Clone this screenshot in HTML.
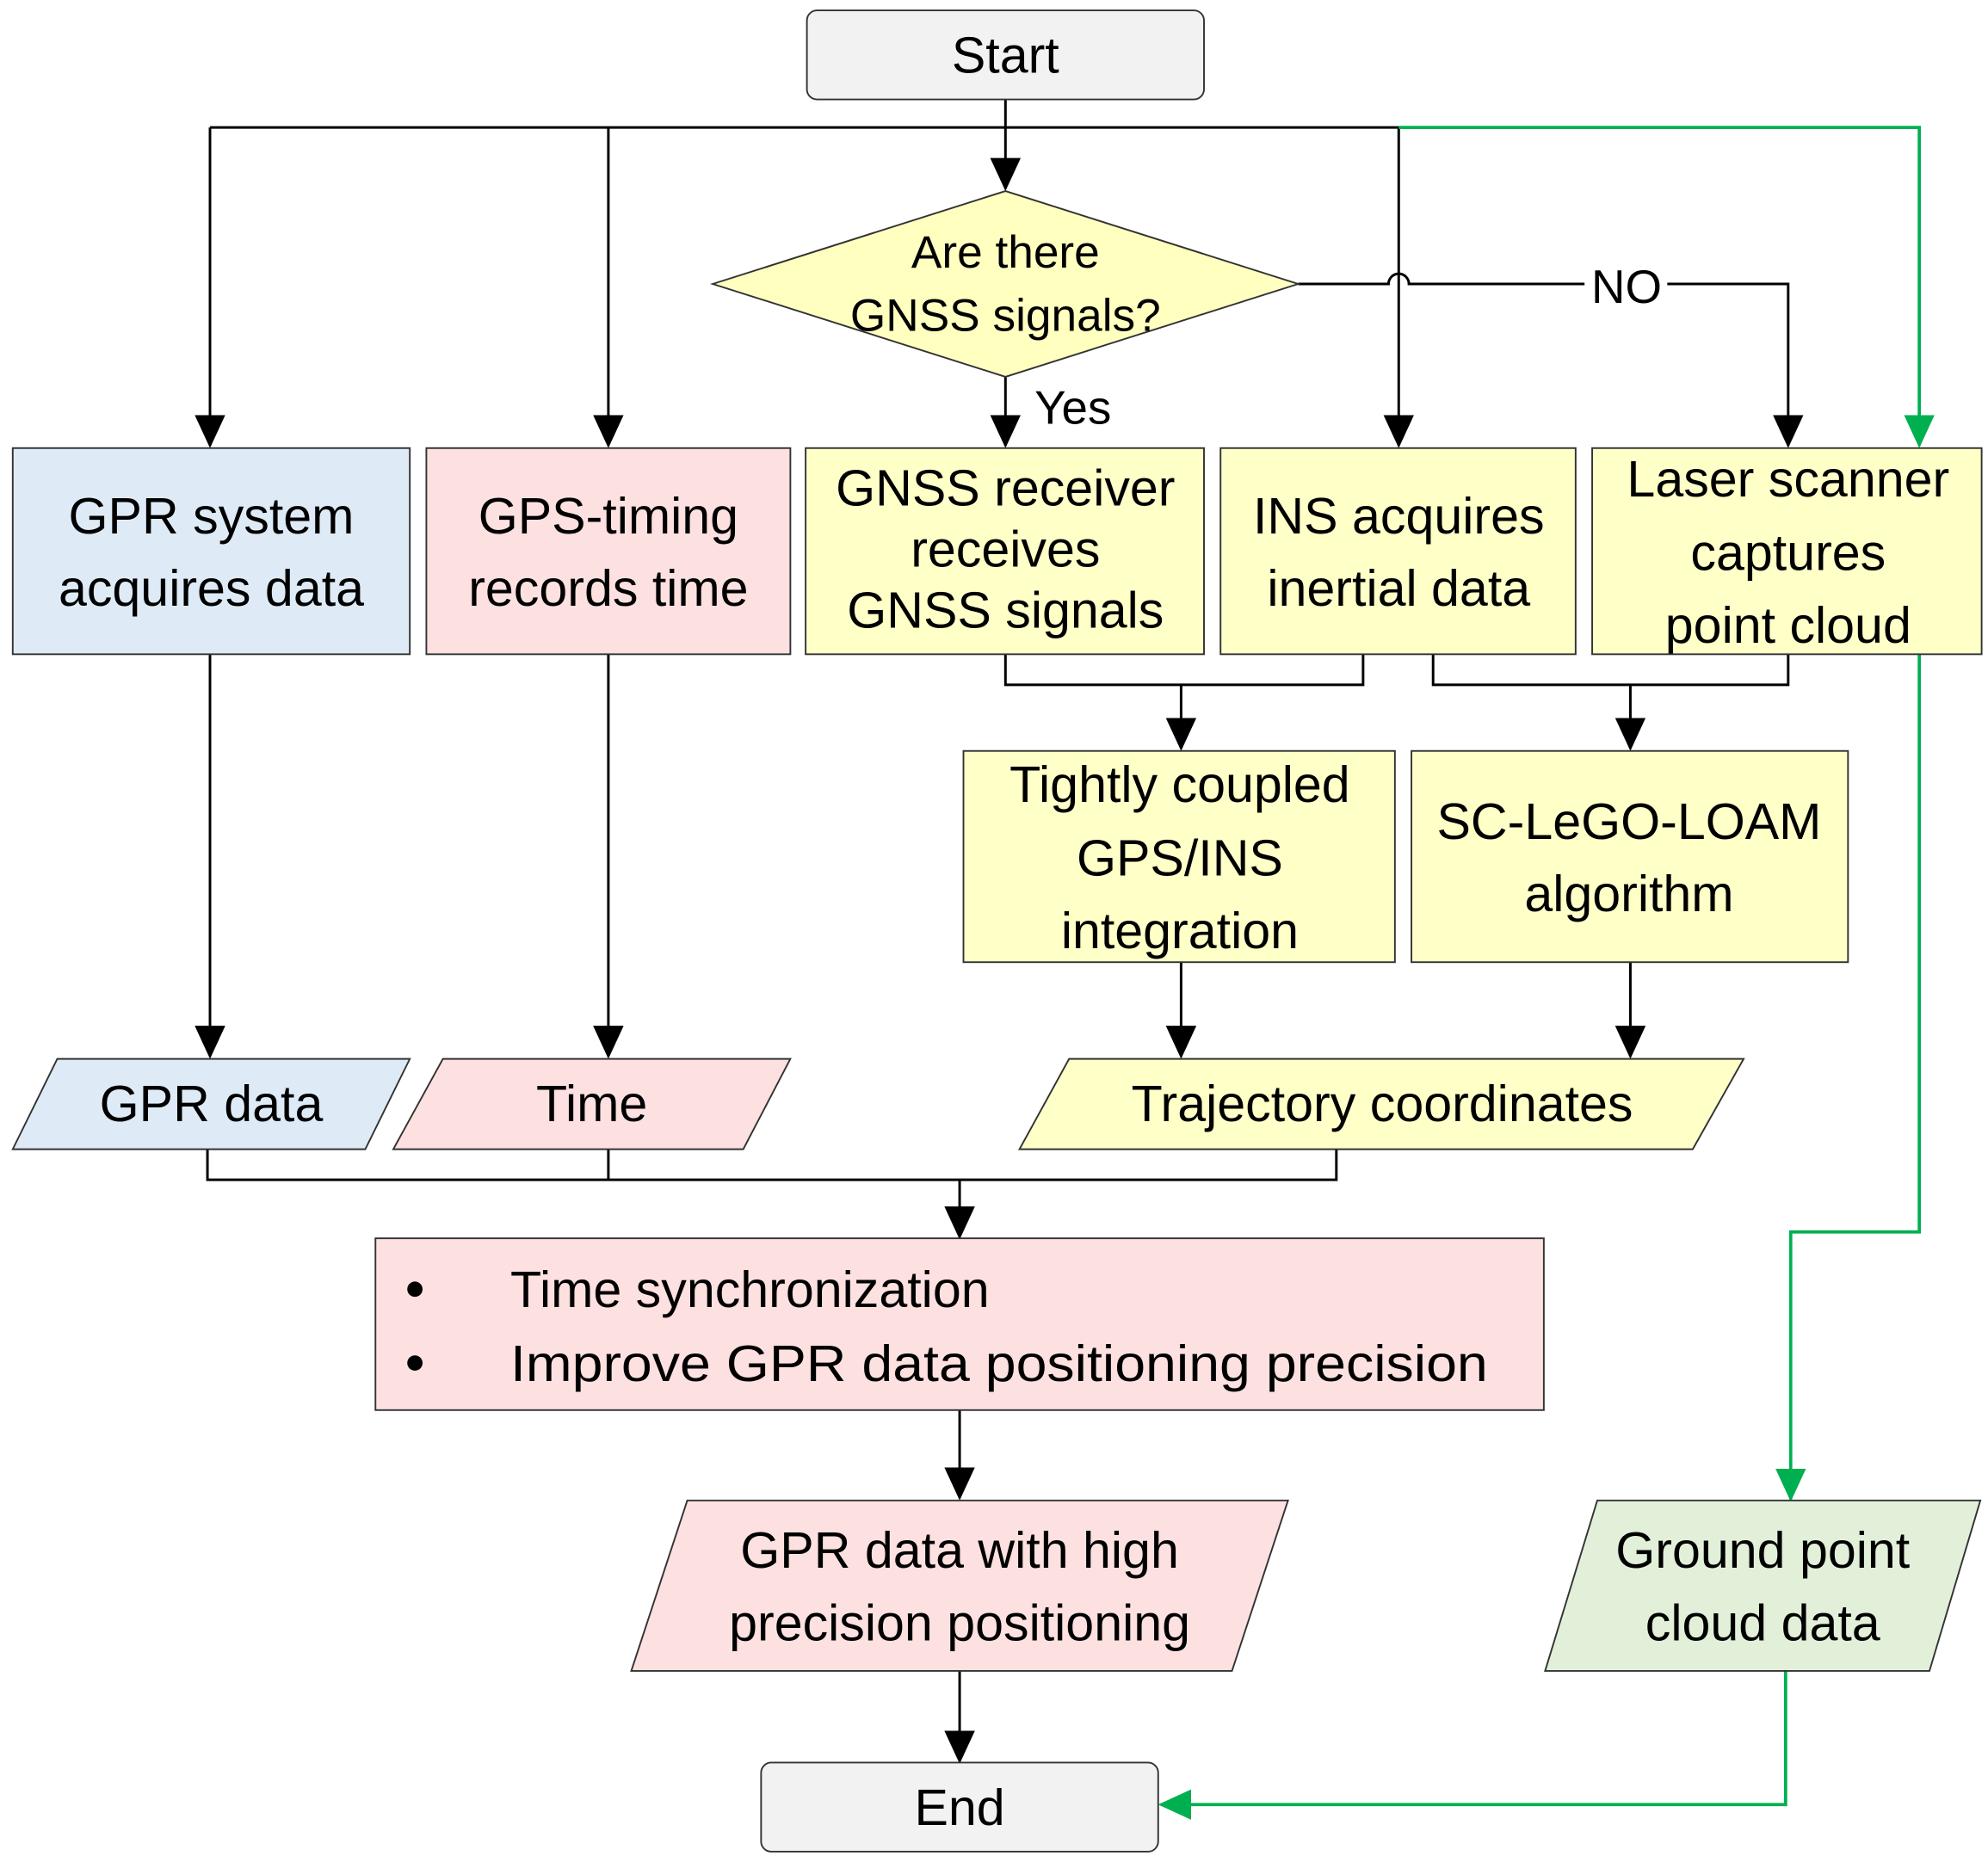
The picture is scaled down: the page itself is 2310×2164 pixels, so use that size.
<!DOCTYPE html>
<html><head><meta charset="utf-8"><style>html,body{margin:0;padding:0;background:#fff}svg{display:block}</style></head>
<body>
<svg width="2310" height="2164" viewBox="0 0 1562 1463" xmlns="http://www.w3.org/2000/svg" font-family="Liberation Sans, sans-serif" font-size="40" text-anchor="middle">
<defs>
<marker id="ab" markerWidth="26" markerHeight="24" refX="24" refY="12" orient="auto" markerUnits="userSpaceOnUse" viewBox="0 0 26 24"><path d="M0,0 L26,12 L0,24 z" fill="#000"/></marker>
<marker id="ag" markerWidth="26" markerHeight="24" refX="24" refY="12" orient="auto" markerUnits="userSpaceOnUse" viewBox="0 0 26 24"><path d="M0,0 L26,12 L0,24 z" fill="#00b050"/></marker>
</defs>
<g stroke="#000" stroke-width="2" fill="none">
<path d="M790 78 V148" marker-end="url(#ab)"/>
<path d="M165 100 H1099"/>
<path d="M165 100 V350" marker-end="url(#ab)"/>
<path d="M478 100 V350" marker-end="url(#ab)"/>
<path d="M1099 100 V350" marker-end="url(#ab)"/>
<path d="M1020 223 H1091 a8 8 0 0 1 16 0 H1245 M1310 223 H1405 V350" marker-end="url(#ab)"/>
<path d="M790 296 V350" marker-end="url(#ab)"/>
<path d="M790 514 V538 H1071 V514"/>
<path d="M928 538 V588" marker-end="url(#ab)"/>
<path d="M1126 514 V538 H1405 V514"/>
<path d="M1281 538 V588" marker-end="url(#ab)"/>
<path d="M165 514 V830" marker-end="url(#ab)"/>
<path d="M478 514 V830" marker-end="url(#ab)"/>
<path d="M928 756 V830" marker-end="url(#ab)"/>
<path d="M1281 756 V830" marker-end="url(#ab)"/>
<path d="M163 903 V927 H1050 V903 M478 903 V927"/>
<path d="M754 927 V972" marker-end="url(#ab)"/>
<path d="M754 1108 V1177" marker-end="url(#ab)"/>
<path d="M754 1313 V1384" marker-end="url(#ab)"/>
</g>
<g stroke="#00b050" stroke-width="2.5" fill="none">
<path d="M1099 100 H1508 V350" marker-end="url(#ag)"/>
<path d="M1508 514 V968 H1407 V1178" marker-end="url(#ag)"/>
<path d="M1403 1313 V1418 H912" marker-end="url(#ag)"/>
</g>
<g stroke="#333" stroke-width="1.3">
<rect x="634" y="8" width="312" height="70" rx="8" fill="#f2f2f2"/>
<polygon points="560,223 790,150 1020,223 790,296" fill="#ffffc0"/>
<rect x="10" y="352" width="312" height="162" fill="#deebf7"/>
<rect x="335" y="352" width="286" height="162" fill="#fde0e0"/>
<rect x="633" y="352" width="313" height="162" fill="#ffffc8"/>
<rect x="959" y="352" width="279" height="162" fill="#ffffc8"/>
<rect x="1251" y="352" width="306" height="162" fill="#ffffc8"/>
<rect x="757" y="590" width="339" height="166" fill="#ffffc8"/>
<rect x="1109" y="590" width="343" height="166" fill="#ffffc8"/>
<polygon points="45,832 322,832 287,903 10,903" fill="#deebf7"/>
<polygon points="348,832 621,832 584,903 309,903" fill="#fde0e0"/>
<polygon points="840,832 1370,832 1330,903 801,903" fill="#ffffc8"/>
<rect x="295" y="973" width="918" height="135" fill="#fde0e0"/>
<polygon points="540,1179 1012,1179 968,1313 496,1313" fill="#fde0e0"/>
<polygon points="1255,1179 1556,1179 1516,1313 1214,1313" fill="#e2f0d9"/>
<rect x="598" y="1385" width="312" height="70" rx="8" fill="#f2f2f2"/>
</g>
<g fill="#000">
<text x="790" y="57">Start</text>
<text x="790" y="210" font-size="36">Are there</text>
<text x="790" y="260" font-size="36">GNSS signals?</text>
<text x="1278" y="238" font-size="37">NO</text>
<text x="843" y="333" font-size="37">Yes</text>
<text x="166" y="419">GPR system</text>
<text x="166" y="476">acquires data</text>
<text x="478" y="419">GPS-timing</text>
<text x="478" y="476">records time</text>
<text x="790" y="397">GNSS receiver</text>
<text x="790" y="445">receives</text>
<text x="790" y="493">GNSS signals</text>
<text x="1099" y="419">INS acquires</text>
<text x="1099" y="476">inertial data</text>
<text x="1405" y="390">Laser scanner</text>
<text x="1405" y="448">captures</text>
<text x="1405" y="505">point cloud</text>
<text x="927" y="630">Tightly coupled</text>
<text x="927" y="688">GPS/INS</text>
<text x="927" y="745">integration</text>
<text x="1280" y="659">SC-LeGO-LOAM</text>
<text x="1280" y="716">algorithm</text>
<text x="166" y="881">GPR data</text>
<text x="465" y="881">Time</text>
<text x="1086" y="881">Trajectory coordinates</text>
<circle cx="326" cy="1013" r="6"/>
<circle cx="326" cy="1071" r="6"/>
<text x="401" y="1027" text-anchor="start">Time synchronization</text>
<text x="401" y="1085" text-anchor="start" textLength="768" lengthAdjust="spacingAndGlyphs">Improve GPR data positioning precision</text>
<text x="754" y="1232">GPR data with high</text>
<text x="754" y="1289">precision positioning</text>
<text x="1385" y="1232">Ground point</text>
<text x="1385" y="1289">cloud data</text>
<text x="754" y="1434">End</text>
</g>
</svg>
</body></html>
